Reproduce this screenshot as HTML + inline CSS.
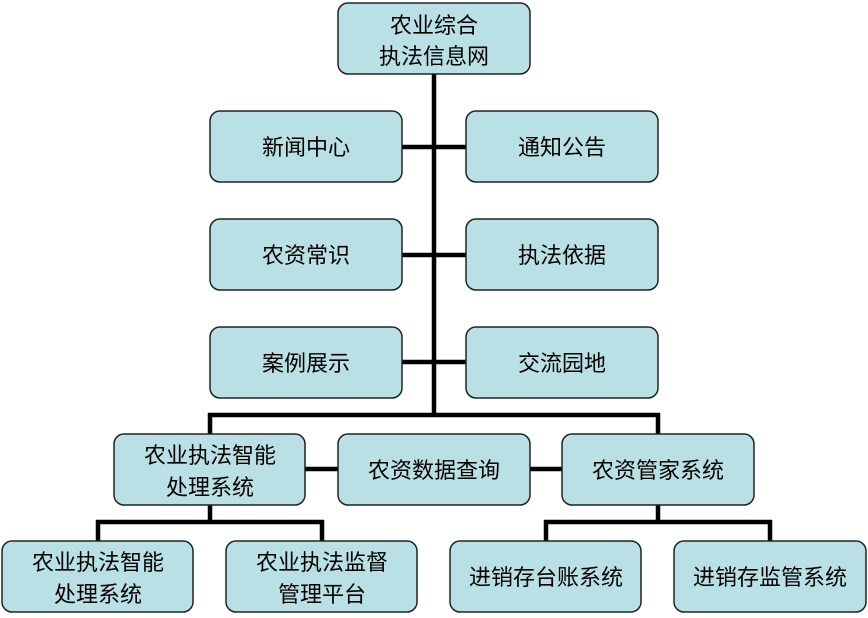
<!DOCTYPE html>
<html><head><meta charset="utf-8"><style>
html,body{margin:0;padding:0;background:#fff}
svg{display:block}
text{font-family:"Liberation Sans","Noto Sans CJK SC",sans-serif;font-size:22px;fill:#000;text-anchor:middle}
rect{fill:#b9e0e4;stroke:#222;stroke-width:1.5}
</style></head><body>
<svg width="868" height="618" viewBox="0 0 868 618">
<g stroke="#000" stroke-width="4.5" fill="none">
<line x1="434" y1="74" x2="434" y2="417"/>
<line x1="402" y1="147" x2="466" y2="147"/>
<line x1="402" y1="255" x2="466" y2="255"/>
<line x1="402" y1="362" x2="466" y2="362"/>
<line x1="208" y1="415" x2="660" y2="415"/>
<line x1="210" y1="413" x2="210" y2="434"/>
<line x1="658" y1="413" x2="658" y2="434"/>
<line x1="305" y1="469" x2="338" y2="469"/>
<line x1="530" y1="469" x2="562" y2="469"/>
<line x1="210" y1="505" x2="210" y2="522"/>
<line x1="96" y1="522" x2="324" y2="522"/>
<line x1="98" y1="520" x2="98" y2="541"/>
<line x1="322" y1="520" x2="322" y2="541"/>
<line x1="658" y1="505" x2="658" y2="522"/>
<line x1="544" y1="522" x2="772" y2="522"/>
<line x1="546" y1="520" x2="546" y2="541"/>
<line x1="770" y1="520" x2="770" y2="541"/>
</g>
<rect x="338" y="3" width="192" height="71" rx="10"/>
<text x="434" y="33">农业综合</text><text x="434" y="64">执法信息网</text>
<rect x="210" y="111" width="192" height="71" rx="10"/><text x="306" y="155">新闻中心</text>
<rect x="466" y="111" width="192" height="71" rx="10"/><text x="562" y="155">通知公告</text>
<rect x="210" y="219" width="192" height="71" rx="10"/><text x="306" y="263">农资常识</text>
<rect x="466" y="219" width="192" height="71" rx="10"/><text x="562" y="263">执法依据</text>
<rect x="210" y="327" width="192" height="71" rx="10"/><text x="306" y="371">案例展示</text>
<rect x="466" y="327" width="192" height="71" rx="10"/><text x="562" y="371">交流园地</text>
<rect x="114" y="434" width="191" height="71" rx="10"/>
<text x="210" y="463">农业执法智能</text><text x="210" y="495">处理系统</text>
<rect x="338" y="434" width="192" height="71" rx="10"/><text x="434" y="478">农资数据查询</text>
<rect x="562" y="434" width="192" height="71" rx="10"/><text x="658" y="478">农资管家系统</text>
<rect x="2" y="541" width="191" height="71" rx="10"/>
<text x="98" y="570">农业执法智能</text><text x="98" y="602">处理系统</text>
<rect x="226" y="541" width="191" height="71" rx="10"/>
<text x="322" y="570">农业执法监督</text><text x="322" y="602">管理平台</text>
<rect x="450" y="541" width="191" height="71" rx="10"/><text x="546" y="585">进销存台账系统</text>
<rect x="674" y="541" width="192" height="71" rx="10"/><text x="770" y="585">进销存监管系统</text>
</svg>
</body></html>
